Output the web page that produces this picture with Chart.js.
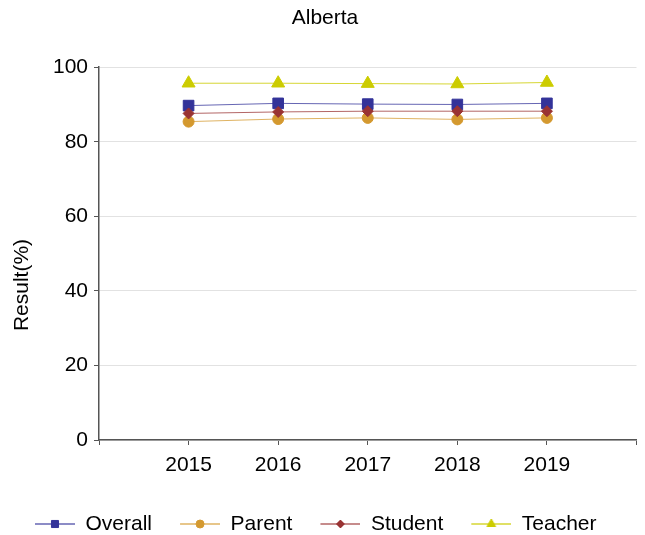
<!DOCTYPE html>
<html>
<head>
<meta charset="utf-8">
<script src="https://cdn.jsdelivr.net/npm/chart.js@4.4.0/dist/chart.umd.min.js"></script>
<style>
  html, body { margin: 0; padding: 0; background: #fff; }
  #wrap { width: 645px; height: 535px; }
</style>
</head>
<body>
<div id="wrap"><canvas id="chart" width="645" height="535"></canvas></div>
<script>
// Survey results by year
const years = [2015, 2016, 2017, 2018, 2019];
const overall = [89.7, 90.3, 90.1, 90.0, 90.3];
const parent = [85.4, 86.1, 86.4, 86.0, 86.4];
const student = [87.6, 88.0, 88.2, 88.2, 88.2];
const teacher = [95.7, 95.7, 95.6, 95.5, 95.9];
const yTicks = [0, 20, 40, 60, 80, 100];

const FONT = { family: '"Liberation Sans", Arial, sans-serif', size: 21, weight: 'normal' };

// Series styles (order: lower value is drawn on top)
const series = [
  { label: 'Overall', values: overall, color: '#333399', line: 'rgba(51,51,153,0.75)', style: 'rect', radius: 7.5, legendRadius: 5, order: 2 },
  { label: 'Parent', values: parent, color: '#D4992F', line: 'rgba(212,153,47,0.75)', style: 'circle', radius: 5.5, legendRadius: 4, order: 3 },
  { label: 'Student', values: student, color: '#993333', line: 'rgba(153,51,51,0.75)', style: 'rectRot', radius: 5.5, legendRadius: 4, order: 1 },
  { label: 'Teacher', values: teacher, color: '#CCCC00', line: 'rgba(204,204,0,0.8)', style: 'triangle', radius: 7.5, legendRadius: 5, order: 4 }
];

// Legend symbol: leading gap, then a short line with the marker on it
const ICON_W = 68;
const ICON_GAP = 28;

function legendIcon(s) {
  const c = document.createElement('canvas');
  c.width = ICON_W;
  c.height = 20;
  const ctx = c.getContext('2d');
  ctx.strokeStyle = s.line;
  ctx.lineWidth = 1.5;
  ctx.beginPath();
  ctx.moveTo(ICON_GAP, 10);
  ctx.lineTo(ICON_W, 10);
  ctx.stroke();
  ctx.fillStyle = s.color;
  ctx.strokeStyle = s.color;
  ctx.lineWidth = 1;
  Chart.helpers.drawPoint(ctx, { pointStyle: s.style, radius: s.legendRadius, borderWidth: 1, rotation: 0 }, (ICON_GAP + ICON_W) / 2, 10);
  return c;
}

const icons = series.map(legendIcon);

const datasets = series.map(s => ({
  label: s.label,
  data: years.map((yr, i) => ({ x: yr, y: s.values[i] })),
  order: s.order,
  borderColor: s.line,
  borderWidth: 1,
  backgroundColor: s.color,
  pointBackgroundColor: s.color,
  pointBorderColor: s.color,
  pointBorderWidth: 1,
  pointStyle: s.style,
  pointRadius: s.radius,
  tension: 0
}));

// Y axis title, drawn a little below the plot centre like the original
const yTitlePlugin = {
  id: 'yTitle',
  afterDraw(chart) {
    const ctx = chart.ctx;
    ctx.save();
    ctx.translate(22, 285);
    ctx.rotate(-Math.PI / 2);
    ctx.font = '21px "Liberation Sans", Arial, sans-serif';
    ctx.fillStyle = '#000';
    ctx.textAlign = 'center';
    ctx.textBaseline = 'middle';
    ctx.fillText('Result(%)', 0, 0);
    ctx.restore();
  }
};

new Chart(document.getElementById('chart'), {
  type: 'line',
  data: { datasets },
  plugins: [yTitlePlugin],
  options: {
    responsive: false,
    devicePixelRatio: 1,
    animation: false,
    layout: { padding: { top: 0, left: 7, right: 2, bottom: -9.5 } },
    plugins: {
      title: {
        display: true,
        text: 'Alberta',
        color: '#000',
        font: FONT,
        padding: { top: 6, bottom: 36 }
      },
      legend: {
        position: 'bottom',
        align: 'start',
        labels: {
          usePointStyle: true,
          pointStyleWidth: ICON_W,
          padding: 0,
          color: '#000',
          font: FONT,
          generateLabels: function(chart) {
            return chart.data.datasets.map((ds, i) => ({
              text: ds.label,
              pointStyle: icons[i],
              fillStyle: ds.backgroundColor,
              strokeStyle: ds.backgroundColor,
              lineWidth: 0,
              hidden: false,
              datasetIndex: i,
              fontColor: '#000'
            }));
          }
        }
      },
      tooltip: { enabled: false }
    },
    scales: {
      x: {
        type: 'linear',
        min: 2014,
        max: 2020,
        ticks: {
          stepSize: 1,
          autoSkip: false,
          maxRotation: 0,
          color: '#000',
          font: FONT,
          padding: 8,
          callback: v => (v > 2014 && v < 2020) ? String(v) : ''
        },
        grid: { drawOnChartArea: false, drawTicks: true, tickLength: 5, tickColor: '#555' },
        border: { color: '#555', width: 1.5 },
        afterFit: function(scale) { scale.height = 73.5; }
      },
      y: {
        min: 0,
        max: 100,
        afterBuildTicks: function(scale) { scale.ticks = yTicks.map(v => ({ value: v })); },
        ticks: { color: '#000', font: FONT, padding: 6 },
        grid: { color: '#e2e2e2', lineWidth: 1, tickLength: 5, tickColor: '#555' },
        border: { color: '#555', width: 1.5 },
        afterFit: function(scale) { scale.width = 92; }
      }
    }
  }
});
</script>
</body>
</html>
